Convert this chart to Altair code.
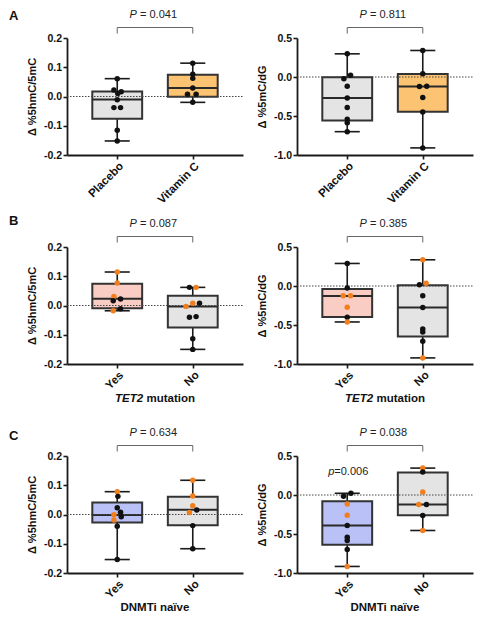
import altair as alt
import pandas as pd

# ---------------- data ----------------
ARM = ["Placebo", "Vitamin C"]
YES_NO = ["Yes", "No"]

# Panel A, left: delta %5hmC/5mC by arm
A1_placebo = [0.061, 0.022, 0.016, 0.010, -0.011, -0.038, -0.038, -0.115, -0.152]
A1_placebo_dx = [0, -0.044, 0.053, 0.007, 0, -0.044, 0.044, 0, 0]
A1_placebo_vc = [0, 0, 0, 0, 0, 0, 0, 0, 0]
A1_vitc = [0.114, 0.076, 0.062, 0.029, 0.008, 0.008, -0.020]
A1_vitc_dx = [0, 0, 0, 0, -0.07, 0.044, 0]
A1_vitc_vc = [0, 0, 0, 0, 0, 0, 0]
A1_box = [[-0.152, -0.076, -0.010, 0.017, 0.061], [-0.020, -0.001, 0.029, 0.074, 0.114]]

# Panel A, right: delta %5mC/dG by arm
A2_placebo = [0.297, 0.021, -0.021, -0.119, -0.268, -0.391, -0.540, -0.586, -0.701]
A2_placebo_dx = [0, 0.044, -0.044, 0, 0, 0, 0, 0, 0]
A2_placebo_vc = [0, 0, 0, 0, 0, 0, 0, 0, 0]
A2_vitc = [0.340, 0.042, -0.123, -0.119, -0.263, -0.450, -0.909]
A2_vitc_dx = [0, 0, -0.044, 0.053, 0, 0, 0]
A2_vitc_vc = [0, 0, 0, 0, 0, 0, 0]
A2_box = [[-0.701, -0.557, -0.268, -0.004, 0.297], [-0.909, -0.446, -0.123, 0.038, 0.340]]

# Panel B, left: delta %5hmC/5mC by TET2 mutation
B1_yes = [0.1145, 0.077, 0.031, 0.022, 0.016, -0.011, -0.018]
B1_yes_dx = [0, 0, -0.044, 0.044, -0.053, 0.044, -0.053]
B1_yes_vc = [1, 1, 1, 0, 0, 0, 1]
B1_no = [0.062, 0.062, 0.008, 0.008, -0.003, -0.038, -0.040, -0.114, -0.150]
B1_no_dx = [-0.044, 0.044, 0, 0.089, -0.089, 0.044, -0.044, 0, 0]
B1_no_vc = [0, 1, 1, 0, 1, 0, 0, 0, 0]
B1_box = [[-0.018, -0.009, 0.023, 0.074, 0.1145], [-0.150, -0.075, -0.003, 0.033, 0.062]]

# Panel B, right: delta %5mC/dG by TET2 mutation
B2_yes = [0.289, -0.026, -0.125, -0.125, -0.272, -0.401, -0.461]
B2_yes_dx = [0, 0, -0.053, 0.044, 0, 0, 0]
B2_yes_vc = [0, 0, 1, 1, 1, 0, 1]
B2_no = [0.336, 0.034, 0.017, -0.125, -0.276, -0.552, -0.591, -0.707, -0.922]
B2_no_dx = [0, 0.044, -0.044, 0, 0, 0, 0, 0, 0]
B2_no_vc = [1, 1, 0, 0, 0, 0, 0, 0, 1]
B2_box = [[-0.461, -0.397, -0.129, -0.039, 0.289], [-0.922, -0.647, -0.276, 0.009, 0.336]]

# Panel C, left: delta %5hmC/5mC by DNMTi naive
C1_yes = [0.078, 0.062, 0.023, 0.008, -0.001, -0.008, -0.019, -0.040, -0.154]
C1_yes_dx = [0, 0.009, 0, 0.044, -0.044, 0.053, -0.044, 0, 0]
C1_yes_vc = [1, 0, 0, 0, 1, 0, 1, 0, 0]
C1_no = [0.117, 0.063, 0.030, 0.015, 0.007, -0.038, -0.117]
C1_no_dx = [0, 0, 0, 0.053, -0.044, 0, 0]
C1_no_vc = [1, 1, 1, 0, 1, 0, 0]
C1_box = [[-0.154, -0.027, -0.002, 0.041, 0.078], [-0.117, -0.037, 0.016, 0.061, 0.117]]

# Panel C, right: delta %5mC/dG by DNMTi naive
C2_yes = [0.022, -0.017, -0.115, -0.260, -0.392, -0.541, -0.584, -0.699, -0.916]
C2_yes_dx = [0.049, -0.049, 0, 0, 0, 0, 0, 0, 0]
C2_yes_vc = [0, 0, 1, 1, 0, 0, 0, 0, 1]
C2_no = [0.345, 0.294, 0.038, -0.123, -0.123, -0.264, -0.455]
C2_no_dx = [0, 0, 0, -0.053, 0.049, 0, 0]
C2_no_vc = [1, 0, 1, 1, 0, 0, 1]
C2_box = [[-0.916, -0.639, -0.392, -0.081, 0.022], [-0.455, -0.260, -0.123, 0.290, 0.345]]

P_VALUES = {"A1": "0.041", "A2": "0.811", "B1": "0.087", "B2": "0.385", "C1": "0.634", "C2": "0.038"}
Y_TITLE_HMC = "\u0394 %5hmC/5mC"
Y_TITLE_MC = "\u0394 %5mC/dG"
HMC_TICKS = [-0.2, -0.1, 0.0, 0.1, 0.2]
MC_TICKS = [-1.0, -0.5, 0.0, 0.5]

# ---------------- styling ----------------
FONT = "Liberation Sans"
GRAY = "#E4E4E4"
ORANGE_FILL = "#FCC372"
PINK = "#F9CCC4"
BLUE = "#B9C1F6"
DOT_BLACK = "#111111"
DOT_ORANGE = "#F27F1E"
W, H = 176, 117
BOX_HALF = 0.33
CAP_HALF = 0.166
XS = alt.Scale(domain=[0.335, 2.665], nice=False, zero=False)
MINUS_FIX = "replace(format(datum.value, '.1f'), '\u2212', '-')"


def panel(cats, groups, box_stats, fills, ydom, yticks, ytitle, pval,
          label=None, label_dy=None, xtitle=None, extra_p=None):
    pts_rows = []
    for gi, (vals, dxs, flags) in enumerate(groups):
        for v, d, f in zip(vals, dxs, flags):
            pts_rows.append({"x": gi + 1 + d, "y": v, "c": DOT_ORANGE if f else DOT_BLACK})
    pts = pd.DataFrame(pts_rows)
    box_rows = []
    for gi, (st, fl) in enumerate(zip(box_stats, fills)):
        p = gi + 1
        box_rows.append({"pos": p, "lo": p - BOX_HALF, "hi": p + BOX_HALF,
                         "clo": p - CAP_HALF, "chi": p + CAP_HALF,
                         "mn": st[0], "q1": st[1], "med": st[2], "q3": st[3], "mx": st[4],
                         "fill": fl})
    box = pd.DataFrame(box_rows)
    ann = pd.DataFrame({"x1": [1.0], "x2": [2.0], "xm": [1.5], "p": ["= " + pval], "zero": [0.0]})
    ys = alt.Scale(domain=ydom, nice=False, zero=False)

    xaxis = alt.Axis(values=[1, 2],
                     labelExpr="datum.value == 1 ? '%s' : '%s'" % (cats[0], cats[1]),
                     labelAngle=315, title=None, tickSize=4, labelPadding=1,
                     labelFontSize=11.5)
    yaxis = alt.Axis(values=yticks, labelExpr=MINUS_FIX, title=ytitle, tickSize=4,
                     labelPadding=1.5, titlePadding=6)

    def X(f):
        return alt.X(f, scale=XS, axis=xaxis)

    def Y(f):
        return alt.Y(f, scale=ys, axis=yaxis)

    base_b = alt.Chart(box)
    whisk = base_b.mark_rule(color="#1a1a1a", strokeWidth=1.6).encode(
        x=X("pos:Q"), y=Y("mn:Q"), y2="mx:Q")
    rect = base_b.mark_rect(stroke="#333333", strokeWidth=2).encode(
        x=X("lo:Q"), x2="hi:Q", y=Y("q1:Q"), y2="q3:Q",
        fill=alt.Fill("fill:N", scale=None))
    med = base_b.mark_rule(color="#2a2a2a", strokeWidth=2).encode(
        x=X("lo:Q"), x2="hi:Q", y=Y("med:Q"))
    cap_lo = base_b.mark_rule(color="#1a1a1a", strokeWidth=1.6).encode(
        x=X("clo:Q"), x2="chi:Q", y=Y("mn:Q"))
    cap_hi = base_b.mark_rule(color="#1a1a1a", strokeWidth=1.6).encode(
        x=X("clo:Q"), x2="chi:Q", y=Y("mx:Q"))

    base_a = alt.Chart(ann)
    zero = base_a.mark_rule(color="#444", strokeWidth=1, strokeDash=[1.5, 1.5]).encode(
        x=alt.value(0), x2=alt.value(W), y=Y("zero:Q"))
    dots = alt.Chart(pts).mark_circle(size=30, opacity=1).encode(
        x=X("x:Q"), y=Y("y:Q"), color=alt.Color("c:N", scale=None))

    br_h = base_a.mark_rule(color="#666", strokeWidth=1).encode(
        x=X("x1:Q"), x2="x2:Q", y=alt.value(-10.5))
    br_l = base_a.mark_rule(color="#666", strokeWidth=1).encode(
        x=X("x1:Q"), y=alt.value(-10.5), y2=alt.value(-4.5))
    br_r = base_a.mark_rule(color="#666", strokeWidth=1).encode(
        x=X("x2:Q"), y=alt.value(-10.5), y2=alt.value(-4.5))
    p_it = base_a.mark_text(align="left", baseline="middle", font=FONT, fontSize=11,
                            fontStyle="italic", color="#222", dx=-25.4).encode(
        x=X("xm:Q"), y=alt.value(-23.5), text=alt.value("P"))
    p_tx = base_a.mark_text(align="left", baseline="middle", font=FONT, fontSize=11,
                            color="#222", dx=-15).encode(
        x=X("xm:Q"), y=alt.value(-23.5), text="p:N")

    layers = [whisk, rect, med, cap_lo, cap_hi, zero, dots, br_h, br_l, br_r, p_it, p_tx]

    if label is not None:
        layers.append(base_a.mark_text(align="left", baseline="middle", font=FONT, fontSize=13,
                                       fontWeight="bold", color="#111").encode(
            x=alt.value(-58), y=alt.value(label_dy), text=alt.value(label)))
    if xtitle is not None:
        italic_part, rest, it_dx, rest_dx = xtitle
        if italic_part:
            layers.append(base_a.mark_text(align="left", baseline="middle", font=FONT, fontSize=11.5,
                                           fontWeight="bold", fontStyle="italic", color="#111",
                                           dx=it_dx).encode(
                x=X("xm:Q"), y=alt.value(H + 35), text=alt.value(italic_part)))
        layers.append(base_a.mark_text(align="left", baseline="middle", font=FONT, fontSize=11.5,
                                       fontWeight="bold", color="#111", dx=rest_dx).encode(
            x=X("xm:Q"), y=alt.value(H + 35), text=alt.value(rest)))
    if extra_p is not None:
        ex_df = pd.DataFrame({"x": [1.0], "y": [extra_p[1]], "t": ["=" + extra_p[0]]})
        eb = alt.Chart(ex_df)
        layers.append(eb.mark_text(align="left", baseline="middle", font=FONT, fontSize=11,
                                   fontStyle="italic", color="#222", dx=-19).encode(
            x=X("x:Q"), y=Y("y:Q"), text=alt.value("p")))
        layers.append(eb.mark_text(align="left", baseline="middle", font=FONT, fontSize=11,
                                   color="#222", dx=-12.9).encode(
            x=X("x:Q"), y=Y("y:Q"), text="t:N"))
    return alt.layer(*layers).properties(width=W, height=H)


A1 = panel(ARM, [(A1_placebo, A1_placebo_dx, A1_placebo_vc), (A1_vitc, A1_vitc_dx, A1_vitc_vc)],
           A1_box, [GRAY, ORANGE_FILL], [-0.2, 0.2], HMC_TICKS, Y_TITLE_HMC, P_VALUES["A1"],
           label="A", label_dy=-21.7)
A2 = panel(ARM, [(A2_placebo, A2_placebo_dx, A2_placebo_vc), (A2_vitc, A2_vitc_dx, A2_vitc_vc)],
           A2_box, [GRAY, ORANGE_FILL], [-1.0, 0.5], MC_TICKS, Y_TITLE_MC, P_VALUES["A2"])
TET2_TITLE = ("TET2", "mutation", -40, -8.5)
DNMT_TITLE = (None, "DNMTi na\u00efve", 0, -34.5)
B1 = panel(YES_NO, [(B1_yes, B1_yes_dx, B1_yes_vc), (B1_no, B1_no_dx, B1_no_vc)],
           B1_box, [PINK, GRAY], [-0.2, 0.2], HMC_TICKS, Y_TITLE_HMC, P_VALUES["B1"],
           label="B", label_dy=-25.7, xtitle=TET2_TITLE)
B2 = panel(YES_NO, [(B2_yes, B2_yes_dx, B2_yes_vc), (B2_no, B2_no_dx, B2_no_vc)],
           B2_box, [PINK, GRAY], [-1.0, 0.5], MC_TICKS, Y_TITLE_MC, P_VALUES["B2"],
           xtitle=TET2_TITLE)
C1 = panel(YES_NO, [(C1_yes, C1_yes_dx, C1_yes_vc), (C1_no, C1_no_dx, C1_no_vc)],
           C1_box, [BLUE, GRAY], [-0.2, 0.2], HMC_TICKS, Y_TITLE_HMC, P_VALUES["C1"],
           label="C", label_dy=-20.4, xtitle=DNMT_TITLE)
C2 = panel(YES_NO, [(C2_yes, C2_yes_dx, C2_yes_vc), (C2_no, C2_no_dx, C2_no_vc)],
           C2_box, [BLUE, GRAY], [-1.0, 0.5], MC_TICKS, Y_TITLE_MC, P_VALUES["C2"],
           xtitle=DNMT_TITLE, extra_p=("0.006", 0.29))

chart = alt.concat(A1, A2, B1, B2, C1, C2, columns=2,
                   spacing={"row": 92, "column": 54}, bounds="flush").resolve_scale(
    x="independent", y="independent").properties(
    padding={"left": 1, "top": 0, "right": 2, "bottom": 2}
).configure_view(stroke=None).configure_axis(
    grid=False, labelFont=FONT, titleFont=FONT, labelFontSize=10.5, titleFontSize=11,
    labelFontWeight="bold", titleFontWeight="bold", labelColor="#111", titleColor="#111",
    domainColor="#1a1a1a", tickColor="#1a1a1a", domainWidth=1.8, tickWidth=1.6
)

chart.save("out.html", embed_options={"renderer": "svg", "actions": False})
